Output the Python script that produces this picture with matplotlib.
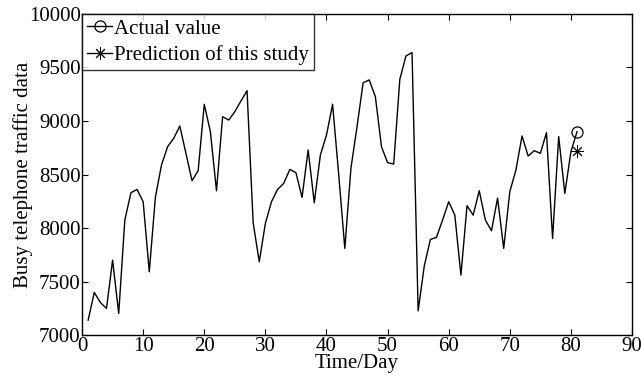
import matplotlib
matplotlib.use("Agg")
import matplotlib.pyplot as plt
import numpy as np

plt.rcParams['font.family'] = ['Liberation Serif', 'DejaVu Serif']

days = list(range(1, 82))
actual = [7140, 7399, 7305, 7249, 7701, 7202, 8075, 8330, 8361, 8246,
          7592, 8287, 8589, 8760, 8838, 8953, 8698, 8442, 8536, 9156,
          8900, 8349, 9040, 9009, 9087, 9187, 9283, 8050, 7685, 8044,
          8246, 8361, 8417, 8548, 8517, 8287, 8729, 8237, 8682, 8869,
          9156, 8500, 7810, 8558, 8947, 9358, 9383, 9227, 8760, 8611,
          8598, 9389, 9607, 9639, 7227, 7645, 7894, 7913, 8075, 8246,
          8121, 7561, 8209, 8121, 8349, 8075, 7975, 8280, 7810, 8340,
          8542, 8860, 8673, 8723, 8698, 8891, 7903, 8854, 8324, 8713,
          8900]
pred_day = [81]
pred_value = [8723]

xticks = [0, 10, 20, 30, 40, 50, 60, 70, 80, 90]
yticks = [7000, 7500, 8000, 8500, 9000, 9500, 10000]

fig = plt.figure(figsize=(6.41, 3.87), dpi=100)
ax = fig.add_axes([0.128, 0.134, 0.858, 0.830])

ax.plot(days, actual, '-', color='black', lw=1.0, marker='o', markevery=[len(days) - 1],
        markersize=8, markerfacecolor='none', markeredgewidth=0.9, label='Actual value')
ax.plot(pred_day, pred_value, '-', color='black', lw=1.0, marker=(8, 2, 0), markersize=9,
        markeredgewidth=0.7, label='Prediction of this study')

ax.set_xlim(0, 90)
ax.set_ylim(7000, 10000)
ax.set_xticks(xticks)
ax.set_yticks(yticks)
ax.tick_params(direction='in', top=True, right=True, labelsize=15, length=4, width=0.8, pad=1)
for s in ax.spines.values():
    s.set_linewidth(1.0)
ax.set_xlabel('Time/Day', fontsize=15, labelpad=-1)
ax.set_ylabel('Busy telephone traffic data', fontsize=15, labelpad=-3)

leg = ax.legend(loc='upper left', fontsize=15, frameon=True, fancybox=False,
                edgecolor='black', borderaxespad=0, handlelength=1.2,
                handletextpad=0.1, borderpad=0.25, labelspacing=0.3)
leg.get_frame().set_linewidth(1.0)

fig.savefig('out.png', dpi=100)
